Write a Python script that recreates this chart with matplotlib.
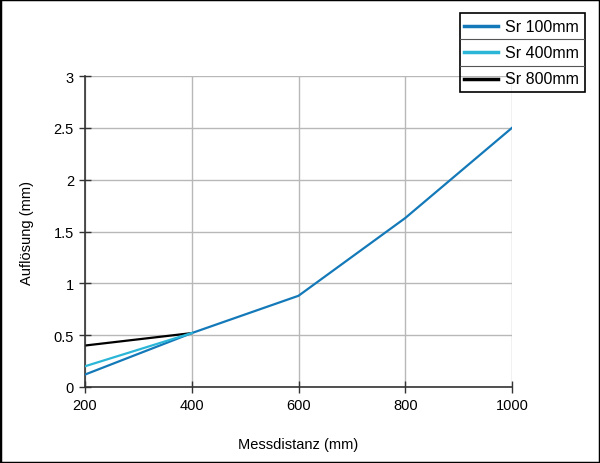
import matplotlib
matplotlib.use("Agg")
import matplotlib.pyplot as plt
from matplotlib.patches import Rectangle

plt.rcParams['font.family'] = ['Liberation Sans', 'DejaVu Sans']

# Measurement distance (mm)
distance = [200, 400, 600, 800, 1000]
# Resolution (mm) per reference distance
sr_100 = [0.12, 0.52, 0.88, 1.63, 2.5]
sr_400 = [0.2, 0.52]
sr_800 = [0.4, 0.52]

series_names = ['Sr 100mm', 'Sr 400mm', 'Sr 800mm']
series_colors = ['#1479b8', '#2bb6d8', '#000000']

x_ticks = [200, 400, 600, 800, 1000]
y_ticks = [0, 0.5, 1, 1.5, 2, 2.5, 3]
y_tick_labels = ['0', '0.5', '1', '1.5', '2', '2.5', '3']

fig = plt.figure(figsize=(6, 4.64), dpi=100)
ax = fig.add_axes([0.1417, 0.1638, 0.7116, 0.6702])

ax.plot(distance, sr_100, color=series_colors[0], lw=1.6, zorder=3)
ax.plot(distance[:2], sr_400, color=series_colors[1], lw=1.6, zorder=4)
ax.plot(distance[:2], sr_800, color=series_colors[2], lw=1.6, zorder=2)

ax.set_xlim(200, 1000)
ax.set_ylim(0, 3)
ax.set_xticks(x_ticks)
ax.set_yticks(y_ticks)
ax.set_yticklabels(y_tick_labels)
ax.grid(True, color='#b8b8b8', lw=1.0)
ax.set_axisbelow(True)
for side in ['top', 'right']:
    ax.spines[side].set_visible(False)
for side in ['left', 'bottom']:
    ax.spines[side].set_color('#333333')
    ax.spines[side].set_linewidth(1.2)
ax.tick_params(direction='inout', length=8, width=1.0, color='#333333',
               labelsize=10.5, pad=4)

ax.set_xlabel('Messdistanz (mm)', fontsize=10.5, labelpad=18)
ax.set_ylabel('Auflösung (mm)', fontsize=10.5, labelpad=14)

# table-style legend
lax = fig.add_axes([0.767, 0.80, 0.208, 0.17])
lax.set_xlim(0, 1)
lax.set_ylim(0, 3)
lax.axis('off')
lax.add_patch(Rectangle((0, 0), 1, 3, fill=False, ec='black', lw=1.2, clip_on=False))
for i, (name, col) in enumerate(zip(series_names, series_colors)):
    yc = 2.5 - i
    lax.plot([0.03, 0.3], [yc, yc], color=col, lw=2.5)
    lax.text(0.36, yc, name, va='center', ha='left', fontsize=11.5)
    if i > 0:
        lax.plot([0, 1], [3 - i, 3 - i], color='#555555', lw=0.8)

fig.patches.append(Rectangle((0, 0), 1, 1, transform=fig.transFigure,
                             fill=False, ec='black', lw=2.5))

fig.savefig('out.png', dpi=100)
